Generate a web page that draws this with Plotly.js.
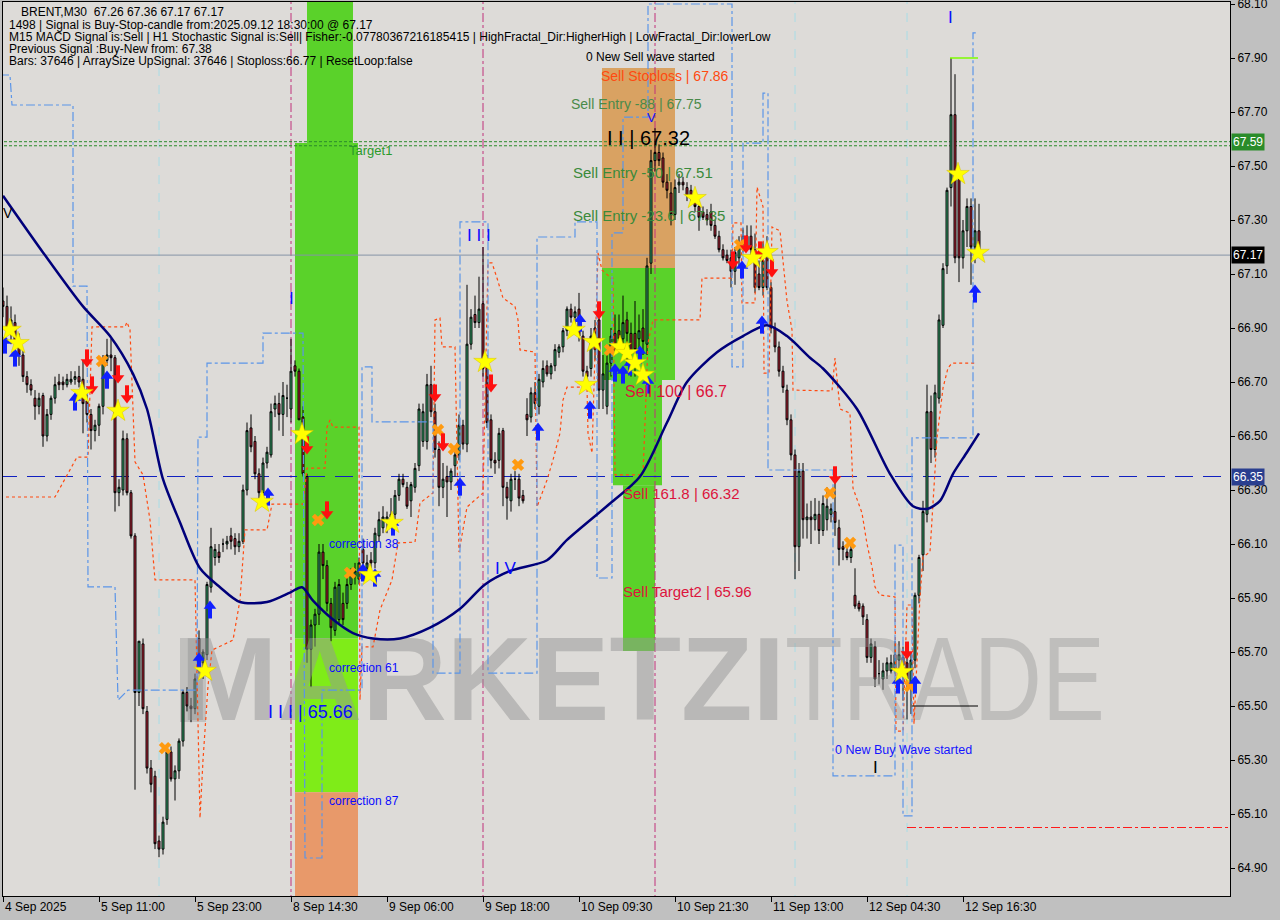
<!DOCTYPE html>
<html><head><meta charset="utf-8">
<script src="https://cdn.plot.ly/plotly-3.0.1.min.js"></script>
<style>html,body{margin:0;padding:0;background:#c0c0c0;}#chart{width:1280px;height:920px;}</style>
</head><body><div id="chart"></div>
<script>
// ---------- DATA ----------
const barOpen = [
67.00,66.98,66.90,66.92,66.84,66.80,66.72,66.69,66.64,66.61,
66.65,66.50,66.58,66.64,66.70,66.70,66.69,66.70,66.71,66.72,
66.71,66.63,66.58,66.52,66.54,66.61,66.78,66.80,66.79,66.29,
66.30,66.49,66.29,66.13,65.55,65.73,65.48,65.27,65.24,65.00,
64.97,65.08,65.33,65.23,65.26,65.37,65.55,65.50,65.49,65.75,
65.66,65.69,65.94,66.05,66.07,66.10,66.10,66.13,66.12,66.09,
66.11,66.30,66.53,66.48,66.36,66.29,66.40,66.43,66.60,66.62,
66.58,66.64,66.60,66.76,66.74,66.57,66.35,65.71,65.80,65.84,
66.07,66.02,65.88,65.78,65.82,65.88,65.88,65.95,65.98,65.97,
66.08,66.01,66.04,66.03,66.13,66.16,66.19,66.20,66.21,66.28,
66.34,66.31,66.26,66.31,66.39,66.48,66.48,66.69,66.59,66.45,
66.31,66.35,66.33,66.39,66.43,66.54,66.47,66.84,66.95,66.92,
66.99,66.75,66.56,66.41,66.41,66.52,66.31,66.26,66.34,66.34,
66.28,66.58,66.57,66.66,66.61,66.70,66.76,66.73,66.76,66.81,
66.83,66.89,66.97,66.94,66.97,66.87,66.74,66.75,66.90,66.93,
66.67,66.61,66.77,66.88,66.89,66.86,66.93,66.88,66.88,66.86,
66.90,66.84,67.14,67.52,67.55,67.53,67.44,67.40,67.32,67.43,
67.44,67.42,67.41,67.38,67.35,67.33,67.32,67.33,67.28,67.24,
67.19,67.17,67.16,67.11,67.16,67.24,67.24,67.24,67.19,67.10,
67.05,67.19,67.05,66.90,66.83,66.74,66.67,66.56,66.43,66.09,
66.37,66.19,66.20,66.19,66.21,66.15,66.19,66.21,66.22,66.16,
66.09,66.07,66.05,65.91,65.88,65.87,65.82,65.68,65.72,65.62,
65.60,65.63,65.63,65.64,65.67,65.68,65.66,65.58,65.67,65.91,
66.06,66.21,66.59,66.45,66.64,66.91,67.13,67.42,67.69,67.45,
67.16,67.26,67.35,67.20,67.26];
const barHigh = [
67.05,67.02,66.98,66.95,66.88,66.82,66.74,66.71,66.67,66.66,
66.66,66.60,66.65,66.72,66.73,66.72,66.73,66.74,66.74,66.76,
66.78,66.68,66.60,66.56,66.62,66.80,66.86,66.86,66.80,66.34,
66.52,66.51,66.30,66.14,65.74,65.75,65.50,65.30,65.26,65.02,
65.09,65.34,65.35,65.28,65.38,65.56,65.57,65.53,65.62,65.78,
65.71,65.96,66.16,66.10,66.10,66.12,66.13,66.16,66.14,66.14,
66.32,66.55,66.58,66.50,66.38,66.42,66.46,66.62,66.65,66.66,
66.70,66.69,66.86,66.78,66.75,66.61,66.36,65.82,65.86,66.10,
66.10,66.04,65.90,65.96,65.97,65.92,65.98,66.01,66.03,66.05,
66.12,66.06,66.07,66.16,66.22,66.24,66.22,66.27,66.30,66.36,
66.36,66.33,66.33,66.40,66.62,66.62,66.73,66.76,66.62,66.48,
66.40,66.39,66.38,66.46,66.58,66.56,67.06,66.97,67.02,67.09,
67.20,66.80,66.58,66.44,66.53,66.53,66.33,66.36,66.37,66.36,
66.30,66.64,66.68,66.70,66.73,66.78,66.78,66.77,66.84,66.84,
66.90,66.98,66.99,66.98,67.03,66.89,66.76,66.90,66.93,66.98,
66.80,66.80,66.90,66.95,66.95,67.02,66.96,66.92,67.00,66.95,
66.97,67.16,67.56,67.64,67.58,67.55,67.47,67.44,67.45,67.47,
67.46,67.44,67.43,67.40,67.37,67.35,67.34,67.36,67.30,67.26,
67.21,67.19,67.19,67.20,67.24,67.27,67.28,67.28,67.25,67.15,
67.22,67.24,67.07,66.92,66.85,66.76,66.69,66.58,66.45,66.40,
66.40,66.25,66.26,66.27,66.26,66.28,66.31,66.25,66.35,66.19,
66.11,66.09,66.11,66.01,65.89,65.88,65.84,65.75,65.74,65.67,
65.66,65.68,65.69,65.74,65.74,65.72,65.70,65.70,65.92,66.06,
66.26,66.69,66.65,66.69,66.95,67.14,67.42,67.90,67.84,67.49,
67.30,67.38,67.38,67.38,67.36];
const barLow = [
66.94,66.88,66.84,66.82,66.76,66.70,66.66,66.65,66.56,66.58,
66.46,66.48,66.56,66.62,66.67,66.67,66.68,66.69,66.69,66.68,
66.51,66.55,66.45,66.48,66.50,66.58,66.76,66.74,66.22,66.24,
66.28,66.28,66.12,65.19,65.50,65.47,65.25,65.18,64.97,64.94,
64.95,65.06,65.22,65.15,65.23,65.35,65.48,65.44,65.47,65.62,
65.60,65.67,65.92,66.02,66.03,66.07,66.08,66.08,66.06,66.07,
66.10,66.28,66.44,66.34,66.27,66.27,66.38,66.42,66.57,66.52,
66.50,66.57,66.55,66.72,66.56,66.35,65.66,65.57,65.72,65.80,
65.97,65.85,65.74,65.76,65.80,65.80,65.86,65.93,65.95,65.95,
66.00,65.99,66.01,66.01,66.11,66.14,66.14,66.18,66.19,66.26,
66.31,66.23,66.20,66.29,66.37,66.46,66.45,66.57,66.42,66.24,
66.27,66.20,66.30,66.35,66.41,66.45,66.44,66.82,66.90,66.90,
66.72,66.53,66.38,66.36,66.38,66.24,66.19,66.22,66.30,66.24,
66.25,66.50,66.55,66.60,66.58,66.68,66.72,66.71,66.74,66.79,
66.81,66.87,66.92,66.88,66.85,66.72,66.70,66.72,66.78,66.60,
66.60,66.58,66.72,66.80,66.83,66.80,66.76,66.72,66.72,66.77,
66.80,66.80,67.10,67.48,67.50,67.42,67.38,67.28,67.30,67.40,
67.41,67.37,67.36,67.33,67.26,67.30,67.28,67.26,67.23,67.18,
67.15,67.14,67.05,67.06,67.13,67.18,67.19,67.17,67.03,67.04,
67.02,67.04,66.88,66.81,66.72,66.66,66.54,66.41,65.97,66.00,
66.12,66.12,66.10,66.15,66.10,66.13,66.15,66.18,66.13,66.02,
66.04,66.04,66.03,65.86,65.85,65.80,65.66,65.66,65.57,65.58,
65.56,65.60,65.62,65.62,65.64,65.52,65.45,65.47,65.64,65.88,
66.00,66.18,66.40,66.42,66.62,66.90,67.10,67.35,67.14,67.07,
67.12,67.20,67.06,67.14,67.17];
const barClose = [
66.98,66.90,66.93,66.84,66.80,66.72,66.69,66.67,66.61,66.64,
66.50,66.58,66.64,66.69,66.69,66.69,66.71,66.71,66.72,66.70,
66.62,66.58,66.52,66.54,66.61,66.78,66.80,66.79,66.29,66.31,
66.49,66.29,66.13,65.55,65.74,65.49,65.27,65.21,64.99,64.97,
65.07,65.33,65.23,65.26,65.37,65.55,65.50,65.49,65.60,65.66,
65.70,65.95,66.09,66.08,66.05,66.10,66.11,66.11,66.09,66.11,
66.30,66.52,66.46,66.36,66.29,66.40,66.44,66.59,66.62,66.58,
66.65,66.64,66.74,66.74,66.56,66.36,65.71,65.80,65.84,66.07,
66.02,65.88,65.79,65.94,65.95,65.82,65.95,65.99,66.00,66.03,
66.03,66.03,66.03,66.14,66.19,66.20,66.20,66.21,66.28,66.34,
66.32,66.24,66.32,66.38,66.60,66.59,66.69,66.59,66.45,66.31,
66.34,66.33,66.37,66.43,66.54,66.47,66.84,66.94,66.92,66.97,
66.75,66.55,66.41,66.40,66.51,66.31,66.27,66.34,66.34,66.27,
66.26,66.56,66.66,66.62,66.71,66.75,66.73,66.76,66.82,66.83,
66.89,66.97,66.94,66.96,66.87,66.74,66.72,66.87,66.82,66.67,
66.73,66.77,66.87,66.84,66.86,66.92,66.88,66.81,66.82,66.89,
66.85,67.13,67.52,67.55,67.52,67.44,67.41,67.32,67.42,67.44,
67.43,67.39,67.38,67.35,67.31,67.31,67.30,67.28,67.24,67.19,
67.16,67.15,67.11,67.18,67.21,67.19,67.20,67.19,67.05,67.05,
67.15,67.05,66.90,66.83,66.74,66.68,66.56,66.43,66.09,66.37,
66.19,66.20,66.19,66.21,66.15,66.25,66.24,66.23,66.18,66.08,
66.08,66.05,66.08,65.87,65.86,65.83,65.68,65.73,65.60,65.62,
65.63,65.66,65.66,65.69,65.69,65.65,65.60,65.67,65.91,66.05,
66.22,66.59,66.45,66.66,66.93,67.12,67.41,67.69,67.16,67.16,
67.26,67.35,67.20,67.26,67.17];

const tickBars = [0,24,48,72,96,120,144,168,192,216,240];
const tickLabels = ["4 Sep 2025","5 Sep 11:00","5 Sep 23:00","8 Sep 14:30","9 Sep 06:00","9 Sep 18:00","10 Sep 09:30","10 Sep 21:30","11 Sep 13:00","12 Sep 04:30","12 Sep 16:30"];
const priceTicks = [64.90,65.10,65.30,65.50,65.70,65.90,66.10,66.30,66.50,66.70,66.90,67.10,67.30,67.50,67.70,67.90,68.10];

const maBar = [0,10,20,26.75,32.5,36,40,44.25,49.25,54.25,59.25,66,71.75,74.75,77.5,82.5,87.5,92.5,99.25,106.75,114.25,120.5,126.75,136,141,151.75,159.25,166,171,178.5,185,191,196,201.75,205,213.5,221.75,227.5,231,234.25,237.5,241,244];
const maVal = [67.39,67.18,66.98,66.87,66.73,66.60,66.34,66.18,66.01,65.94,65.885,65.885,65.92,65.94,65.89,65.82,65.77,65.75,65.75,65.79,65.86,65.95,66.0,66.04,66.115,66.25,66.35,66.55,66.70,66.81,66.87,66.91,66.87,66.79,66.75,66.60,66.36,66.24,66.23,66.26,66.36,66.44,66.51];

const orangeBar = [-0.75,13,18.5,21.25,22.25,30.5,31,31.75,33,35,36.75,38,48,49.25,50,51.25,52.25,57.5,59.25,60.5,66,67.25,75,76,80.5,81,81.75,82.5,89,89.25,89.75,92.5,94.25,97.25,98.75,103,104.25,107.5,108,109.25,109.75,113,113.5,114,116,120,121.25,122.25,123.5,125,128,128.75,129.25,133,133.5,136,137.5,139.25,140,141,146,146.25,147.25,148.75,149.75,152,152.5,153,160,161.25,162.5,174.25,174.75,182.25,182.5,184.5,184.75,188,188.5,190,190.25,191.5,192.25,194.25,196,197.25,197.5,207.25,208,209.25,211.75,212.5,214.75,216,217.25,218,219.25,223,223.25,225,226,227.25,227.75,229.25,230,231.75,233.5,235,236.25,237.25,243];
const orangeVal = [66.274,66.274,66.422,66.422,66.904,66.904,66.922,66.893,66.404,66.356,66.189,65.967,65.967,65.085,65.300,65.574,65.707,65.744,65.893,66.152,66.152,66.248,66.248,66.381,66.381,66.533,66.559,66.533,66.533,65.522,65.719,65.719,65.856,65.967,66.104,66.107,66.252,66.289,66.930,66.937,66.830,66.830,66.448,66.070,66.237,66.289,67.141,67.141,67.085,67.011,66.980,66.930,66.819,66.811,66.237,66.337,66.411,66.511,66.633,66.681,66.681,66.511,66.437,67.178,67.115,67.085,67.085,66.356,66.356,66.844,66.930,66.930,67.085,67.085,67.289,67.289,66.993,66.993,67.422,67.350,66.733,66.733,67.274,67.260,67.000,66.893,66.670,66.667,66.789,66.600,66.585,66.307,66.215,66.100,66.015,65.941,65.911,65.904,65.407,65.407,65.874,65.874,65.433,65.904,66.052,66.070,66.493,66.678,66.752,66.770,66.770];

const blueBar = [-0.75,1.75,2.25,17.5,17.5,21,21.25,28,28.75,31.25,48.5,48.75,51,51,65,65,75,75.5,79.75,79.75,89.75,89.75,92.25,92.25,107.5,107.5,114.25,114.25,121.25,121.25,133.5,133.5,143,143,148.5,148.5,152.25,152.25,155,155,161.25,161.25,182.25,182.25,185,185,190,190,191.25,191.25,207.5,207.5,223,223,225,225,227.25,227.25,242.5,242.5,243.75];
const blueVal = [67.837,67.837,67.726,67.726,67.055,67.055,65.941,65.941,65.522,65.559,65.559,66.496,66.496,66.770,66.770,66.881,66.881,64.937,64.937,65.559,65.559,66.756,66.756,66.552,66.552,65.622,65.622,67.293,67.293,65.622,65.622,67.237,67.237,67.293,67.293,65.974,65.974,67.252,67.252,67.681,67.681,68.100,68.100,66.756,66.756,67.585,67.585,67.770,67.770,66.374,66.374,65.241,65.241,66.096,66.096,65.093,65.093,66.493,66.493,67.993,67.993];

const starBar = [1.75,3.75,19.75,28.75,50.5,64.75,74.75,91.75,97.25,120.5,142.75,147.75,145.75,154.25,156,158,160,173,187.5,191,224.75,238.75,243.75];
const starVal = [66.893,66.844,66.659,66.593,65.630,66.256,66.507,65.985,66.178,66.774,66.893,66.848,66.689,66.830,66.807,66.770,66.726,67.381,67.159,67.181,65.626,67.470,67.178];
const upBar = [0.5,3,18,26,49,51.75,66.25,90,93,97.5,114.25,133.75,144.25,146.75,153,155,156.75,159.25,161.25,184.75,189.75,223.75,228,243];
const upVal = [66.837,66.789,66.626,66.707,65.663,65.856,66.274,65.993,65.974,66.163,66.311,66.515,66.918,66.596,66.733,66.726,66.756,66.800,66.689,67.115,66.911,65.578,65.578,67.026];
const downBar = [21,22.25,28.75,31,76,81,108,110,122,149,182.5,185.75,189.25,192.25,208,226];
const downVal = [66.789,66.689,66.730,66.656,66.467,66.226,66.659,66.478,66.696,66.967,67.152,67.211,67.189,67.122,66.356,65.707];
const crossBar = [24.75,40.5,78.75,86.75,108.75,112.75,128.75,151.75,184.25,206.75,211.75,226.75];
const crossVal = [66.778,65.344,66.189,65.993,66.522,66.452,66.393,66.819,67.207,66.289,66.104,65.574];

const lastPrice = 67.17, pivotLevel = 66.35, targetLevels = [67.59, 67.575], stopLevel = 65.05, lowLine = 65.50, highLine = 67.90;

// ---------- helpers for text placement (pixel -> paper) ----------
const PX = x => (x - 3) / 1227;
const PY = y => (896 - y) / 894;
const idx = barClose.map((_, i) => i);

const traces = [
  {type:'scatter', mode:'text', x:[44.25], y:[65.556], text:['MARKETZI'], textposition:'middle right',
   textfont:{family:'Liberation Sans, Arial', size:118, color:'rgba(150,150,150,0.5)', weight:'bold'}, hoverinfo:'skip'},
  {type:'scatter', mode:'text', x:[195.5], y:[65.556], text:['TRADE'], textposition:'middle right',
   textfont:{family:'Liberation Sans, Arial', size:118, color:'rgba(150,150,150,0.42)', weight:'normal'}, hoverinfo:'skip'},
  {type:'candlestick', x:idx, open:barOpen, high:barHigh, low:barLow, close:barClose,
   increasing:{line:{color:'#000', width:1}, fillcolor:'#3cb878'},
   decreasing:{line:{color:'#000', width:1}, fillcolor:'#c8283c'},
   whiskerwidth:0, hoverinfo:'skip'},
  {type:'scatter', mode:'lines', x:orangeBar, y:orangeVal, line:{color:'#ff4a10', width:1.2, dash:'dot'}, hoverinfo:'skip'},
  {type:'scatter', mode:'lines', x:blueBar, y:blueVal, line:{color:'#5b95e8', width:1.2, dash:'dashdot'}, hoverinfo:'skip'},
  {type:'scatter', mode:'lines', x:maBar, y:maVal, line:{color:'#00007a', width:2.5, shape:'spline', smoothing:0.8}, hoverinfo:'skip'},
  {type:'scatter', mode:'markers', x:crossBar, y:crossVal, marker:{symbol:'x', size:11, color:'#ff9a10', line:{width:0}}, hoverinfo:'skip'},
  {type:'scatter', mode:'markers', x:upBar, y:upVal, marker:{symbol:'line-ns', size:8, angle:0, standoff:3, line:{color:'#1020ff', width:4}}, hoverinfo:'skip'},
  {type:'scatter', mode:'markers', x:upBar, y:upVal, marker:{symbol:'triangle-down', size:11, angle:180, standoff:4, color:'#1020ff', line:{width:0}}, hoverinfo:'skip'},
  {type:'scatter', mode:'markers', x:downBar, y:downVal, marker:{symbol:'line-ns', size:8, angle:180, standoff:3, line:{color:'#ff1010', width:4}}, hoverinfo:'skip'},
  {type:'scatter', mode:'markers', x:downBar, y:downVal, marker:{symbol:'triangle-down', size:11, angle:0, standoff:4, color:'#ff1010', line:{width:0}}, hoverinfo:'skip'},
  {type:'scatter', mode:'markers', x:starBar, y:starVal, marker:{symbol:'star', size:17, color:'#ffff00', line:{color:'#d8c000', width:0.5}}, hoverinfo:'skip'}
];

const TOP = 68.2, BOT = 64.70, XMAX = 306.75;
const shapes = [
  {type:'rect', layer:'below', x0:73, x1:88.75, y0:65.75, y1:67.585, fillcolor:'#5ad22a', line:{width:0}},
  {type:'rect', layer:'below', x0:76, x1:87.5, y0:67.585, y1:TOP, fillcolor:'#5ad22a', line:{width:0}},
  {type:'rect', layer:'below', x0:73, x1:88.75, y0:65.181, y1:65.75, fillcolor:'#7fec18', line:{width:0}},
  {type:'rect', layer:'below', x0:73, x1:88.75, y0:BOT, y1:65.181, fillcolor:'#e8996a', line:{width:0}},
  {type:'rect', layer:'below', x0:149.75, x1:168, y0:67.122, y1:67.863, fillcolor:'#d9a262', line:{width:0}},
  {type:'rect', layer:'below', x0:149.75, x1:168, y0:66.707, y1:67.122, fillcolor:'#5ad22a', line:{width:0}},
  {type:'rect', layer:'below', x0:152.5, x1:164.75, y0:66.318, y1:66.707, fillcolor:'#5ad22a', line:{width:0}},
  {type:'rect', layer:'below', x0:155, x1:163, y0:65.704, y1:66.318, fillcolor:'#5ad22a', line:{width:0}},
  {type:'rect', layer:'below', x0:44.25, x1:50.75, y0:65.441, y1:65.752, fillcolor:'rgba(130,130,130,0.3)', line:{width:0}},
  {type:'line', layer:'below', x0:72, x1:72, y0:BOT, y1:TOP, line:{color:'#c0307a', width:1, dash:'dashdot'}},
  {type:'line', layer:'below', x0:120, x1:120, y0:BOT, y1:TOP, line:{color:'#c0307a', width:1, dash:'dashdot'}},
  {type:'line', layer:'below', x0:163, x1:163, y0:BOT, y1:TOP, line:{color:'#c0307a', width:1, dash:'dashdot'}},
  {type:'line', layer:'below', x0:39, x1:39, y0:BOT, y1:TOP, line:{color:'#a8dce6', width:1, dash:'dash'}},
  {type:'line', layer:'below', x0:198, x1:198, y0:BOT, y1:TOP, line:{color:'#a8dce6', width:1, dash:'dash'}},
  {type:'line', layer:'below', x0:226, x1:226, y0:BOT, y1:TOP, line:{color:'#a8dce6', width:1, dash:'dash'}},
  {type:'line', layer:'below', x0:-1, x1:XMAX, y0:lastPrice, y1:lastPrice, line:{color:'#8594a6', width:1}},
  {type:'line', layer:'below', x0:-1, x1:XMAX, y0:pivotLevel, y1:pivotLevel, line:{color:'#1020c0', width:1, dash:'18px,10px'}},
  {type:'line', layer:'below', x0:-1, x1:XMAX, y0:targetLevels[0], y1:targetLevels[0], line:{color:'#2a8a2a', width:1, dash:'3px,2px'}},
  {type:'line', layer:'below', x0:-1, x1:XMAX, y0:targetLevels[1], y1:targetLevels[1], line:{color:'#2a8a2a', width:1, dash:'3px,2px'}},
  {type:'line', x0:226, x1:XMAX, y0:stopLevel, y1:stopLevel, line:{color:'#ff1a1a', width:1, dash:'dashdot'}},
  {type:'line', x0:227.25, x1:243.75, y0:lowLine, y1:lowLine, line:{color:'#000', width:1}},
  {type:'line', x0:236.75, x1:243.75, y0:highLine, y1:highLine, line:{color:'#7cfc00', width:1.5}}
];

function txt(x, y, t, size, color, extra) {
  return Object.assign({xref:'paper', yref:'paper', x:PX(x), y:PY(y), text:t, showarrow:false,
    xanchor:'left', yanchor:'middle', borderpad:0,
    font:{family:'Liberation Sans, Arial', size:size, color:color}}, extra || {});
}
const annotations = [
  txt(20, 12, 'BRENT,M30\u00a0\u00a067.26 67.36 67.17 67.17', 12, '#000'),
  txt(8, 25, '1498 | Signal is Buy-Stop-candle from:2025.09.12 18:30:00 @ 67.17', 12, '#000'),
  txt(8, 37, 'M15 MACD Signal is:Sell | H1 Stochastic Signal is:Sell| Fisher:-0.07780367216185415 | HighFractal_Dir:HigherHigh | LowFractal_Dir:lowerLow', 12, '#000'),
  txt(8, 49, 'Previous Signal :Buy-New from: 67.38', 12, '#000'),
  txt(8, 61, 'Bars: 37646 | ArraySize UpSignal: 37646 | Stoploss:66.77 | ResetLoop:false', 12, '#000'),
  txt(585, 57, '0 New Sell wave started', 12, '#000'),
  txt(600, 76, 'Sell Stoploss | 67.86', 14, '#ff4a10'),
  txt(570, 104, 'Sell Entry -88 | 67.75', 14, '#4a8a4a'),
  txt(646, 118, 'V', 13, '#1010ff'),
  txt(606, 138, 'I I | 67.32', 20, '#000'),
  txt(348, 151, 'Target1', 13, '#2a9a2a'),
  txt(572, 172, 'Sell Entry -50 | 67.51', 15, '#3a8a3a'),
  txt(572, 215, 'Sell Entry -23.6 | 67.35', 15, '#3a8a3a'),
  txt(624, 391, 'Sell 100 | 66.7', 16, '#dc143c'),
  txt(622, 493, 'Sell 161.8 | 66.32', 15, '#dc143c'),
  txt(622, 591, 'Sell Target2 | 65.96', 15, '#dc143c'),
  txt(328, 544, 'correction 38', 12, '#0a0aff'),
  txt(328, 668, 'correction 61', 12, '#0a0aff'),
  txt(328, 801, 'correction 87', 12, '#0a0aff'),
  txt(267, 712, 'I I I | 65.66', 18, '#0a0aff'),
  txt(288, 298, 'I', 17, '#0a0aff'),
  txt(466, 235, 'I I I', 17, '#0a0aff'),
  txt(494, 568, 'I V', 17, '#0a0aff'),
  txt(947, 17, 'I', 17, '#0a0aff'),
  txt(872, 767, 'I', 17, '#000'),
  txt(2, 213, 'V', 14, '#000'),
  txt(834, 750, '0 New Buy Wave started', 12.5, '#1515ff'),
  txt(1231, 142, '67.59', 12, '#ffffff', {bgcolor:'#2a8c2a', borderpad:1}),
  txt(1231, 255, '67.17', 12, '#ffffff', {bgcolor:'#000000', borderpad:1}),
  txt(1231, 477, '66.35', 12, '#ffffff', {bgcolor:'#2a3f8f', borderpad:1})
];
tickBars.forEach((b, i) => annotations.push({xref:'x', yref:'paper', x:b, y:PY(907), text:tickLabels[i],
  showarrow:false, xanchor:'left', yanchor:'middle', font:{family:'Liberation Sans, Arial', size:12, color:'#000'}}));

const layout = {
  width:1280, height:920,
  margin:{l:3, r:50, t:2, b:24, pad:0},
  paper_bgcolor:'#c0c0c0', plot_bgcolor:'#dddbd8',
  showlegend:false, hovermode:false, dragmode:false,
  font:{family:'Liberation Sans, Arial, sans-serif', size:12, color:'#000'},
  xaxis:{range:[0, XMAX], showgrid:false, zeroline:false, showline:true, linecolor:'#000', linewidth:1, mirror:true,
    ticks:'outside', ticklen:5, tickcolor:'#000', tickvals:tickBars, showticklabels:false,
    rangeslider:{visible:false}, fixedrange:true},
  yaxis:{range:[64.7963, 68.1074], side:'right', showgrid:false, zeroline:false, showline:true, linecolor:'#000', linewidth:1, mirror:true,
    ticks:'outside', ticklen:4, tickcolor:'#000', tickvals:priceTicks, ticktext:priceTicks.map(v => v.toFixed(2)),
    ticklabeloverflow:'allow', tickfont:{size:12, color:'#000'}, fixedrange:true},
  shapes:shapes,
  annotations:annotations
};
Plotly.newPlot('chart', traces, layout, {staticPlot:true, displayModeBar:false}).then(gd => {
  gd.querySelectorAll('.textpoint text').forEach(t => {
    const s = t.textContent;
    if (s === 'MARKETZI') { t.setAttribute('textLength', '605'); t.setAttribute('lengthAdjust', 'spacingAndGlyphs'); t.style.fontWeight = 'bold'; }
    if (s === 'TRADE') { t.setAttribute('textLength', '320'); t.setAttribute('lengthAdjust', 'spacingAndGlyphs'); }
  });
});
</script>
</body></html>
